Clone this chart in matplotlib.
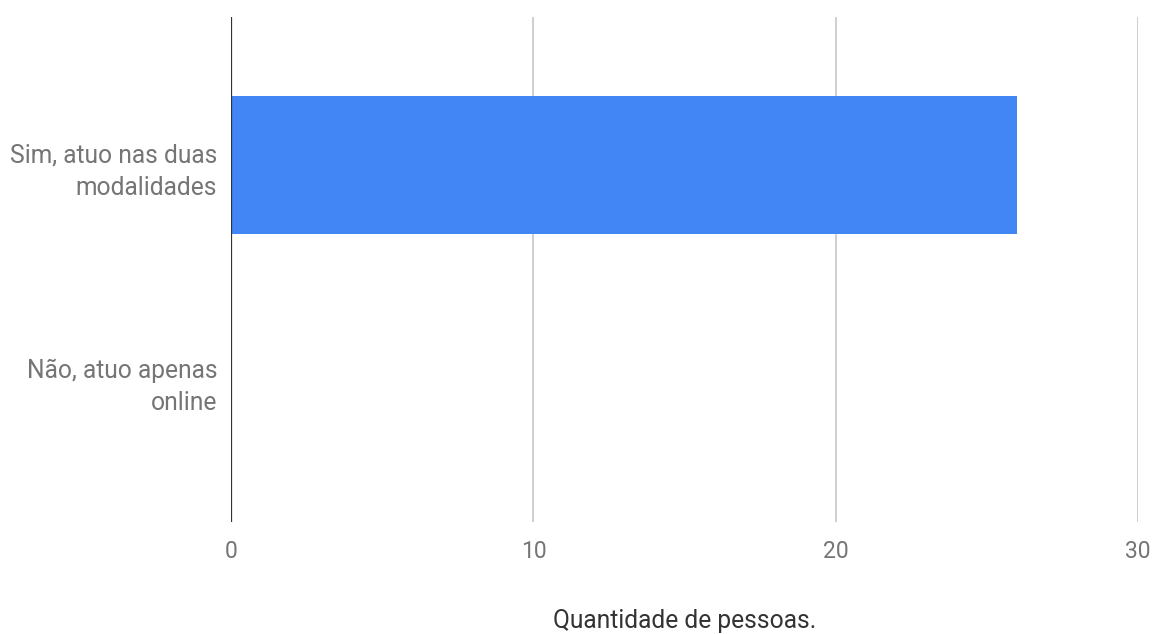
import matplotlib
matplotlib.use('Agg')
from matplotlib import pyplot as plt

# data
categories = ['Sim, atuo nas duas\nmodalidades', 'Não, atuo apenas\nonline']
values = [26, 0]
xticks = [0, 10, 20, 30]

plt.rcParams['font.family'] = ['Roboto', 'DejaVu Sans']

f = plt.figure(figsize=(11.57, 6.34), dpi=100)
ax = f.add_axes([0.1997, 0.1767, 0.7839, 0.7965])

ypos = list(range(len(categories)))
ax.barh(ypos, values, height=0.64, color='#4285F4', zorder=3)

ax.set_xlim(0, 30)
ax.set_ylim(1.66, -0.688)
ax.set_xticks(xticks)
ax.set_xticklabels([str(t) for t in xticks])
ax.set_yticks(ypos)
ax.set_yticklabels(categories, ha='right', multialignment='right', linespacing=1.45)

ax.grid(axis='x', color='#cccccc', linewidth=1.3, zorder=0)
ax.axvline(0, color='#333333', linewidth=1.6, zorder=4)

for s in ax.spines.values():
    s.set_visible(False)
ax.tick_params(axis='both', length=0, labelcolor='#757575')
ax.tick_params(axis='x', pad=13, labelsize=16.5)
ax.tick_params(axis='y', pad=10, labelsize=17.7)

ax.set_xlabel('Quantidade de pessoas.', fontsize=17.7, color='#333333', labelpad=33)

f.savefig('out.png', dpi=100)
